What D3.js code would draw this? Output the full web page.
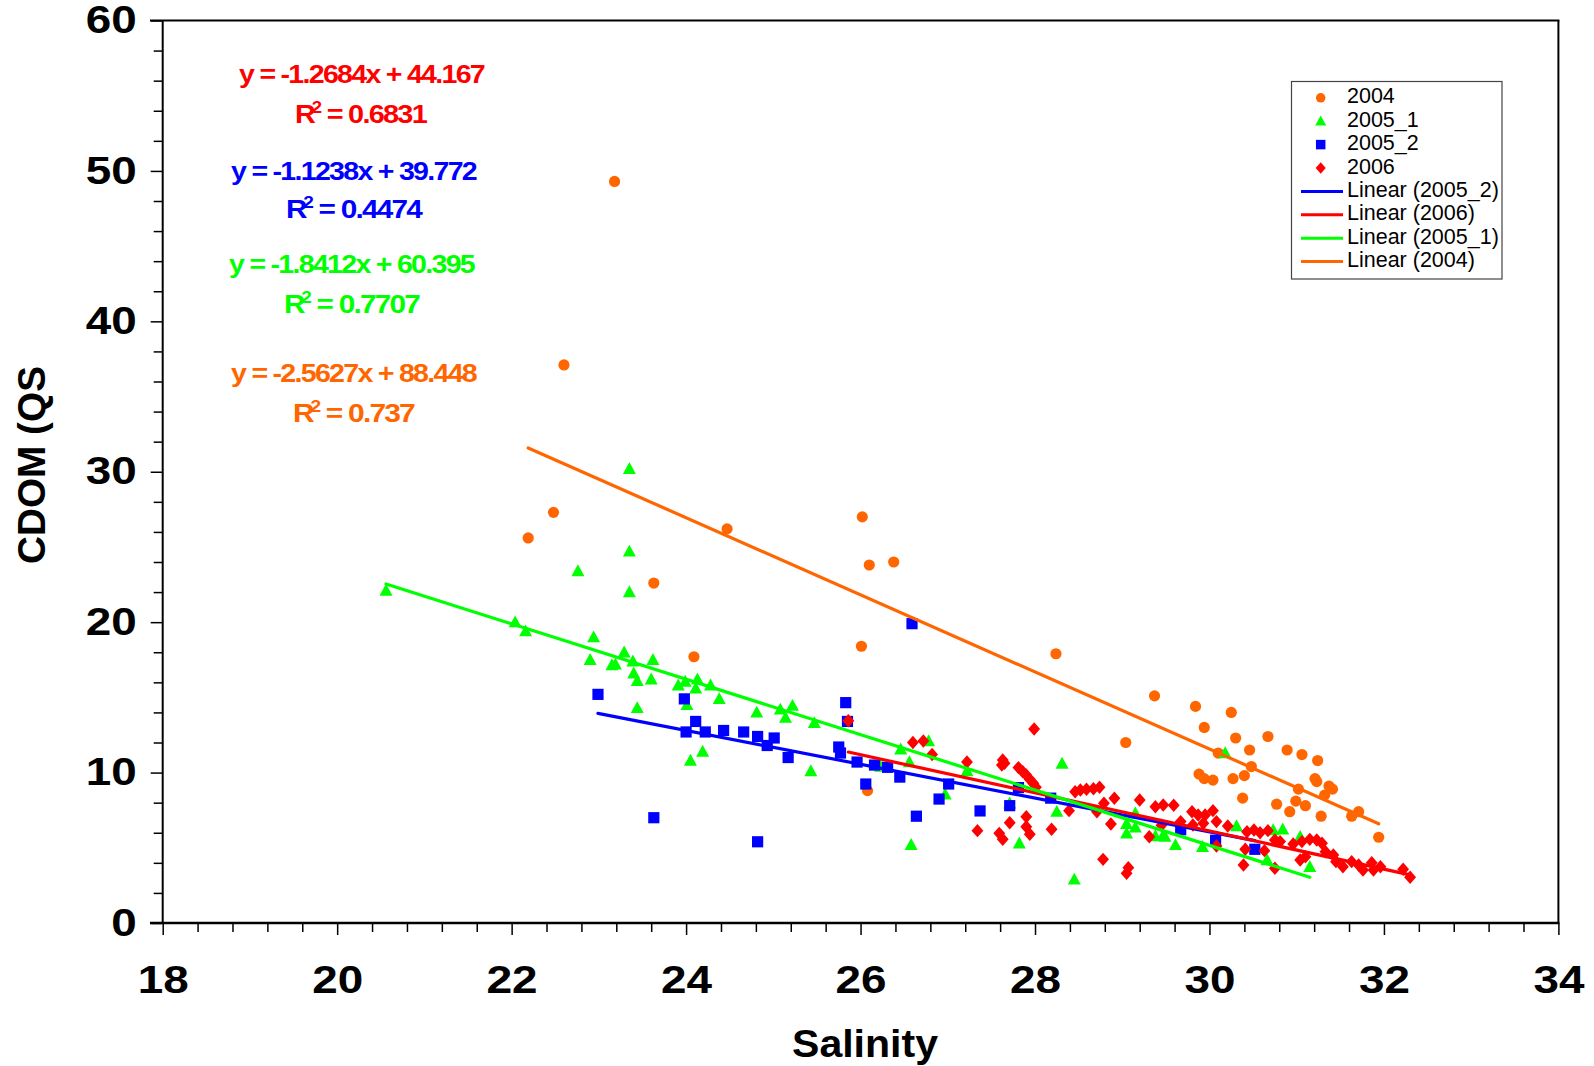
<!DOCTYPE html>
<html>
<head>
<meta charset="utf-8">
<script src="https://cdn.jsdelivr.net/npm/d3@7"></script>
<style>
  html, body { margin: 0; padding: 0; background: #fff; }
  svg { display: block; font-family: "Liberation Sans", Arial, sans-serif; }
</style>
</head>
<body>
<svg id="chart" width="1594" height="1066"></svg>
<script>
// ---- Samples: [salinity, CDOM] per survey ----
const pts2004 = [
  [22.19,25.6],[22.48,27.3],[22.60,37.1],[23.18,49.3],[23.63,22.6],[24.09,17.7],[24.47,26.2],
  [26.01,18.4],[26.02,27.0],[26.08,8.8],[26.10,23.8],[26.38,24.0],[28.24,17.9],[29.04,12.0],
  [29.37,15.1],[29.84,14.4],[29.88,9.9],[29.94,13.0],[29.94,9.6],[30.04,9.5],[30.10,11.3],
  [30.25,14.0],[30.27,9.6],[30.30,12.3],[30.38,8.3],[30.40,9.8],[30.46,11.5],[30.48,10.4],
  [30.67,12.4],[30.77,7.9],[30.89,11.5],[30.92,7.4],[30.99,8.1],[31.02,8.9],[31.06,11.2],
  [31.10,7.8],[31.21,9.6],[31.23,9.4],[31.24,10.8],[31.28,7.1],[31.32,8.5],[31.37,9.1],
  [31.41,8.9],[31.63,7.1],[31.71,7.4],[31.94,5.7]
];
const pts2005_1 = [
  [20.56,22.1],[22.04,20.0],[22.16,19.4],[22.76,23.4],[22.90,17.5],[22.94,19.0],[23.15,17.15],
  [23.19,17.2],[23.29,18.0],[23.35,30.2],[23.35,24.7],[23.35,22.0],[23.39,17.4],[23.40,16.6],
  [23.44,16.1],[23.44,14.3],[23.60,16.2],[23.62,17.5],[23.91,15.8],[23.99,16.05],[24.01,14.5],
  [24.05,10.8],[24.11,15.6],[24.13,16.2],[24.19,11.4],[24.28,15.8],[24.38,14.9],[24.81,14.0],
  [25.08,14.2],[25.14,13.65],[25.22,14.45],[25.43,10.1],[25.47,13.3],[26.23,10.4],[26.46,11.55],
  [26.56,10.7],[26.58,5.2],[26.78,12.1],[26.97,8.56],[27.22,10.1],[27.71,7.96],[27.82,5.3],
  [28.25,7.4],[28.31,10.6],[28.45,2.9],[29.05,6.6],[29.05,5.96],[29.15,6.36],[29.15,7.3],
  [29.38,5.78],[29.47,5.85],[29.49,5.74],[29.61,5.19],[29.92,5.07],[30.18,11.3],[30.31,6.45],
  [30.66,4.19],[30.73,6.18],[30.84,6.23],[31.04,5.74],[31.15,3.74]
];
const pts2005_2 = [
  [22.99,15.2],[23.63,7.0],[23.98,14.9],[24.00,12.7],[24.11,13.4],[24.22,12.7],[24.43,12.8],
  [24.66,12.7],[24.82,12.4],[24.82,5.4],[24.93,11.8],[25.01,12.3],[25.17,11.0],[25.75,11.7],
  [25.77,11.3],[25.83,14.65],[25.85,13.4],[25.96,10.7],[26.06,9.24],[26.16,10.5],[26.31,10.35],
  [26.45,9.7],[26.59,19.9],[26.64,7.1],[26.90,8.24],[27.01,9.24],[27.37,7.45],[27.71,7.8],
  [27.81,9.0],[28.18,8.3],[29.67,6.2],[30.07,5.5],[30.52,4.9]
];
const pts2006 = [
  [25.86,13.45],[26.60,12.0],[26.72,12.1],[26.82,11.2],[27.22,10.7],[27.34,6.14],[27.59,5.96],
  [27.63,10.84],[27.63,5.57],[27.65,10.62],[27.62,10.5],[27.71,6.67],[27.81,10.33],[27.86,10.06],
  [27.90,9.84],[27.90,7.07],[27.90,6.40],[27.94,9.55],[27.94,5.90],[27.98,9.29],[27.99,12.9],
  [28.01,9.02],[28.19,6.23],[28.39,7.47],[28.46,8.73],[28.52,8.84],[28.59,8.89],[28.67,8.93],
  [28.71,7.40],[28.74,9.02],[28.78,4.23],[28.79,7.96],[28.87,6.58],[28.91,8.29],[29.05,3.30],
  [29.07,3.68],[29.20,8.18],[29.31,5.74],[29.38,7.73],[29.45,6.5],[29.47,7.85],[29.59,7.83],
  [29.67,6.74],[29.80,7.40],[29.81,6.52],[29.87,7.18],[29.93,6.63],[29.95,7.18],[30.04,7.47],
  [30.08,6.74],[30.08,5.12],[30.21,6.45],[30.39,3.86],[30.41,4.90],[30.43,6.07],[30.51,6.18],
  [30.58,6.00],[30.63,4.81],[30.67,6.14],[30.75,5.52],[30.75,3.64],[30.81,5.41],[30.96,5.25],
  [31.04,4.19],[31.06,5.41],[31.10,4.41],[31.15,5.56],[31.23,5.52],[31.29,5.30],[31.33,4.74],
  [31.42,4.52],[31.45,4.08],[31.53,3.74],[31.63,4.08],[31.71,3.86],[31.76,3.52],[31.86,4.01],
  [31.88,3.52],[31.96,3.74],[32.22,3.57],[32.30,3.04]
];

// ---- Linear fits (equation labels top-left, in this order) ----
const fitNames      = ["2006", "2005_2", "2005_1", "2004"];
const fitSlope      = [-1.2684, -1.1238, -1.8412, -2.5627];
const fitIntercept  = [44.167, 39.772, 60.395, 88.448];
const fitR2         = ["0.6831", "0.4474", "0.7707", "0.737"];

// ---- Axis ticks ----
const xTicks = [18, 20, 22, 24, 26, 28, 30, 32, 34];
const yTicks = [0, 10, 20, 30, 40, 50, 60];

// ---- Series styling ----
const seriesNames  = ["2004", "2005_1", "2005_2", "2006"];
const seriesPoints = [pts2004, pts2005_1, pts2005_2, pts2006];
const colors = { "2004": "#ff6600", "2005_1": "#00ff00", "2005_2": "#0000ff", "2006": "#ff0000" };
const shapes = { "2004": "circle", "2005_1": "triangle", "2005_2": "square", "2006": "diamond" };
const trendOrder = ["2005_2", "2006", "2005_1", "2004"];

const svg = d3.select("#chart");
const FONT = '"Liberation Sans", Arial, sans-serif';

const x = d3.scaleLinear().domain([18, 34]).range([162.7, 1558.4]);
const y = d3.scaleLinear().domain([0, 60]).range([923, 20.5]);

// marker path builder (s = scale factor)
function markerPath(shape, s) {
  const p = d3.path();
  if (shape === "circle") { p.arc(0, 0, 5 * s, 0, 2 * Math.PI); }
  else if (shape === "square") { p.rect(-5 * s, -5 * s, 10 * s, 10 * s); }
  else if (shape === "triangle") {
    p.moveTo(0, -6 * s); p.lineTo(5.8 * s, 4.6 * s); p.lineTo(-5.8 * s, 4.6 * s); p.closePath();
  } else {
    p.moveTo(0, -6 * s); p.lineTo(5.3 * s, 0); p.lineTo(0, 6 * s); p.lineTo(-5.3 * s, 0); p.closePath();
  }
  return p.toString();
}

// ---- Axes ----
const xMinor = d3.range(18, 34.0001, 0.4).filter(v => Math.abs(v / 2 - Math.round(v / 2)) > 1e-6);
const yMinor = d3.range(0, 60.0001, 2).filter(v => v % 10 !== 0);

function styleAxis(g) {
  g.select(".domain").remove();
  g.selectAll(".tick line").attr("stroke", "#000").attr("stroke-width", 1.5);
}

svg.append("g").attr("transform", "translate(0,923)")
  .call(d3.axisBottom(x).tickValues(xMinor).tickSize(9).tickFormat(""))
  .call(styleAxis);
svg.append("g").attr("transform", "translate(162.7,0)")
  .call(d3.axisLeft(y).tickValues(yMinor).tickSize(9).tickFormat(""))
  .call(styleAxis);

const xAxisG = svg.append("g").attr("transform", "translate(0,923)")
  .call(d3.axisBottom(x).tickValues(xTicks).tickSize(12).tickPadding(31).tickFormat(d3.format("d")))
  .call(styleAxis);
const yAxisG = svg.append("g").attr("transform", "translate(162.7,0)")
  .call(d3.axisLeft(y).tickValues(yTicks).tickSize(12).tickPadding(14).tickFormat(d3.format("d")))
  .call(styleAxis);

[xAxisG, yAxisG].forEach(g => {
  g.attr("font-family", null).attr("font-size", null);
  g.selectAll(".tick text")
    .attr("font-family", FONT).attr("font-size", 38).attr("font-weight", "bold").attr("fill", "#000")
    .attr("lengthAdjust", "spacingAndGlyphs")
    .attr("textLength", d => String(d).length === 1 ? 25.5 : 51);
});

// plot frame
svg.append("line").attr("x1", 162.7).attr("x2", 162.7).attr("y1", 20.5).attr("y2", 923)
  .attr("stroke", "#000").attr("stroke-width", 2);
svg.append("line").attr("x1", 150).attr("x2", 1559.4).attr("y1", 20.5).attr("y2", 20.5)
  .attr("stroke", "#000").attr("stroke-width", 2);
svg.append("line").attr("x1", 1558.4).attr("x2", 1558.4).attr("y1", 20.5).attr("y2", 923)
  .attr("stroke", "#000").attr("stroke-width", 2);
svg.append("line").attr("x1", 150).attr("x2", 1559.4).attr("y1", 923).attr("y2", 923)
  .attr("stroke", "#000").attr("stroke-width", 2.5);

// axis titles
svg.append("text").attr("x", 865).attr("y", 1057).attr("text-anchor", "middle")
  .attr("font-family", FONT).attr("font-size", 39).attr("font-weight", "bold")
  .attr("lengthAdjust", "spacingAndGlyphs").attr("textLength", 146)
  .text("Salinity");
svg.append("text").attr("transform", "translate(45,465) rotate(-90)").attr("text-anchor", "middle")
  .attr("font-family", FONT).attr("font-size", 38).attr("font-weight", "bold")
  .attr("lengthAdjust", "spacingAndGlyphs").attr("textLength", 198)
  .text("CDOM (QS");

// ---- Scatter markers ----
const markersG = svg.append("g");
seriesNames.forEach((name, i) => {
  markersG.append("g").selectAll("path").data(seriesPoints[i]).join("path")
    .attr("transform", d => `translate(${x(d[0])},${y(d[1])})`)
    .attr("d", markerPath(shapes[name], 1.12))
    .attr("fill", colors[name]);
});

// ---- Trend lines over each series' salinity range ----
const trendG = svg.append("g");
trendOrder.forEach(name => {
  const k = fitNames.indexOf(name);
  const pts = seriesPoints[seriesNames.indexOf(name)];
  const [x0, x1] = d3.extent(pts, d => d[0]);
  const f = v => fitSlope[k] * v + fitIntercept[k];
  trendG.append("line")
    .attr("x1", x(x0)).attr("y1", y(f(x0)))
    .attr("x2", x(x1)).attr("y2", y(f(x1)))
    .attr("stroke", colors[name]).attr("stroke-width", 3.2).attr("stroke-linecap", "round");
});

// ---- Equation labels ----
const eqPos = [
  { ex: 239, ey: 83,  rx: 295, ry: 123, rw: 131 },
  { ex: 231, ey: 180, rx: 286, ry: 218, rw: 135 },
  { ex: 229, ey: 273, rx: 284, ry: 313, rw: 135 },
  { ex: 231, ey: 382, rx: 293, ry: 422, rw: 121 }
];
fitNames.forEach((name, k) => {
  const p = eqPos[k];
  const c = colors[name];
  svg.append("text").attr("x", p.ex).attr("y", p.ey)
    .attr("font-family", FONT).attr("font-size", 25).attr("font-weight", "bold").attr("fill", c)
    .attr("letter-spacing", -1.5)
    .attr("lengthAdjust", "spacingAndGlyphs").attr("textLength", 245)
    .text(`y = ${fitSlope[k]}x + ${fitIntercept[k]}`);
  const r = svg.append("text").attr("x", p.rx).attr("y", p.ry)
    .attr("font-family", FONT).attr("font-size", 25).attr("font-weight", "bold").attr("fill", c)
    .attr("letter-spacing", -1.5);
  r.append("tspan").text("R");
  r.append("tspan").attr("font-size", 16).attr("dy", -10).attr("dx", -2).text("2");
  r.append("tspan").attr("dy", 10).text(` = ${fitR2[k]}`);
  r.attr("lengthAdjust", "spacingAndGlyphs").attr("textLength", p.rw);
});

// ---- Legend ----
const lg = svg.append("g");
lg.append("rect").attr("x", 1291.5).attr("y", 81.5).attr("width", 210.5).attr("height", 197.5)
  .attr("fill", "#fff").attr("stroke", "#444").attr("stroke-width", 1.2);
const legendRows = seriesNames.map(n => ({ kind: "marker", name: n, label: n }))
  .concat(trendOrder.map(n => ({ kind: "line", name: n, label: `Linear (${n})` })));
legendRows.forEach((row, i) => {
  const cy = 97.8 + i * 23.4;
  if (row.kind === "marker") {
    lg.append("path").attr("transform", `translate(1320.7,${cy})`)
      .attr("d", markerPath(shapes[row.name], 0.95)).attr("fill", colors[row.name]);
  } else {
    lg.append("line").attr("x1", 1301).attr("x2", 1343).attr("y1", cy).attr("y2", cy)
      .attr("stroke", colors[row.name]).attr("stroke-width", 3);
  }
  lg.append("text").attr("x", 1347).attr("y", cy + 5.5)
    .attr("font-family", FONT).attr("font-size", 21.5).attr("fill", "#000")
    .text(row.label);
});
</script>
</body>
</html>
